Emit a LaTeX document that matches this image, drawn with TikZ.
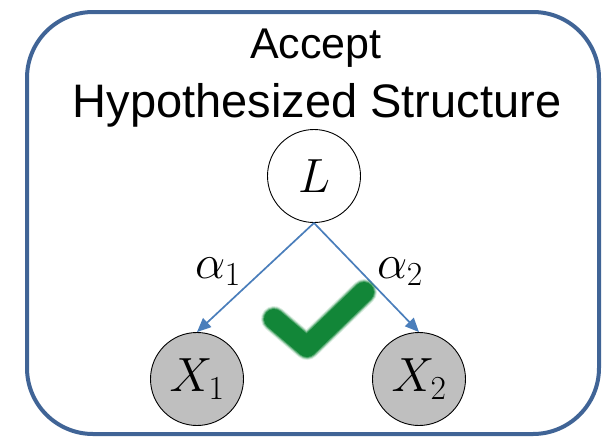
\RequirePackage{fix-cm}
\documentclass[tikz,border=0pt]{standalone}
\usepackage{fontspec}
\setmainfont{Liberation Sans}
\usetikzlibrary{arrows.meta}
\definecolor{frameblue}{RGB}{64,100,150}
\definecolor{edgeblue}{RGB}{74,126,187}
\definecolor{obsgray}{RGB}{191,191,191}
\definecolor{checkgreen}{RGB}{18,134,56}
\tikzset{
  frame/.style={draw=frameblue, line width=4pt, rounded corners=66pt},
  title/.style={anchor=base, inner sep=0pt},
  latent/.style={circle, draw=black, line width=0.9pt, fill=white, minimum size=93pt, inner sep=0pt, font=\fontsize{48}{56}\selectfont},
  observed/.style={latent, fill=obsgray},
  edge/.style={draw=edgeblue, line width=1.7pt, -{Triangle[length=14pt, width=12pt]}},
  weight/.style={font=\fontsize{48}{56}\selectfont, inner sep=0pt},
}
\begin{document}
\begin{tikzpicture}[x=1pt, y=-1pt]
  \useasboundingbox (0,0) rectangle (611,437);
  % outer panel
  \draw[frame] (27,12) rectangle (599,434);
  % heading
  \node[title, font=\fontsize{43}{52}\selectfont] (t1) at (316,58) {Accept};
  \node[title, font=\fontsize{47}{56}\selectfont] (t2) at (317,117) {Hypothesized Structure};
  % graph
  \node[latent] (L) at (314,176) {$L$};
  \node[observed] (X1) at (197,379) {$X_1$};
  \node[observed] (X2) at (419,379) {$X_2$};
  \draw[edge] (L.south) -- (X1.north);
  \draw[edge] (L.south) -- (X2.north);
  \node[weight] (a1) at (218,272) {$\alpha_1$};
  \node[weight] (a2) at (400,272) {$\alpha_2$};
  % soft-edged check mark
  \foreach \w/\o in {26/0.15, 24/0.3, 22/0.55, 20/1} {
    \draw[checkgreen, line width=\w pt, line cap=round, line join=round, opacity=\o]
      (274,319) -- (307,347) -- (364,292);
  }
\end{tikzpicture}
\end{document}
